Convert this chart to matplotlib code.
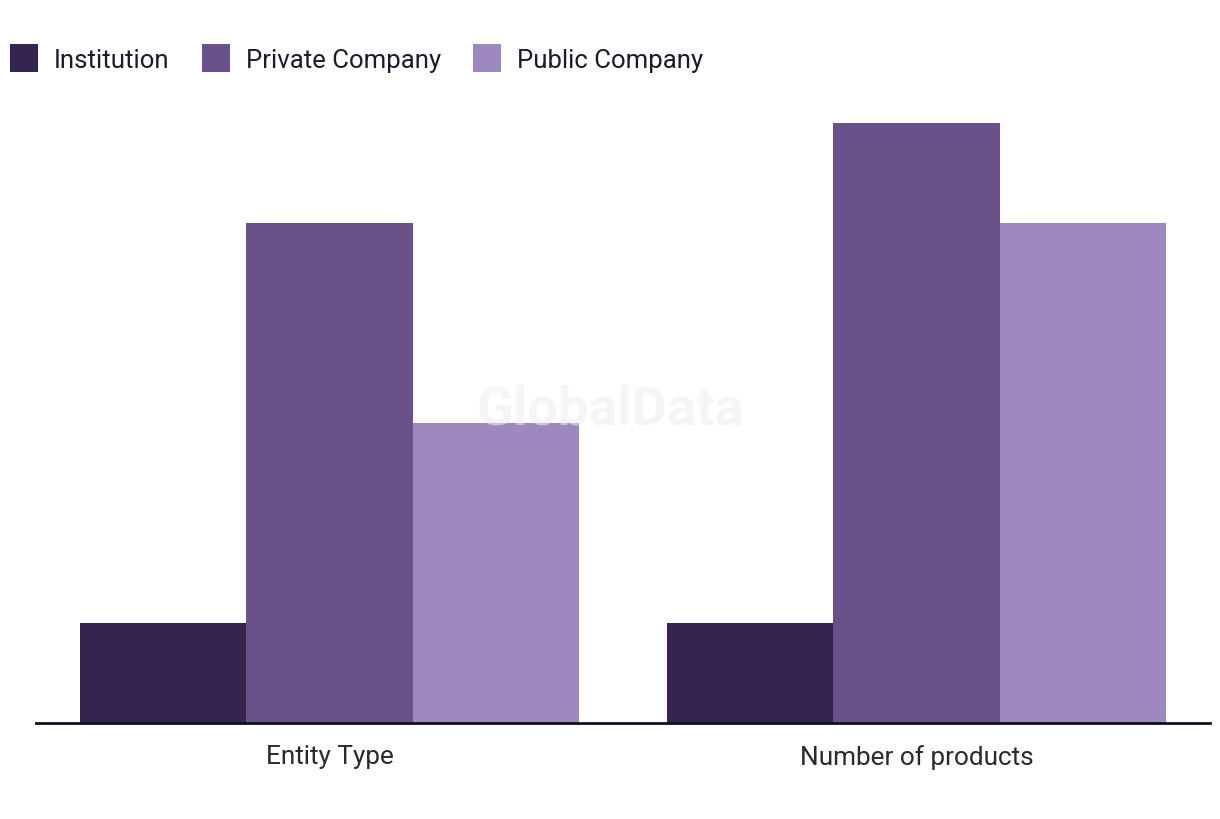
import numpy as np
import matplotlib.pyplot as plt
from matplotlib.patches import Patch

## Data
categories = ['Entity Type', 'Number of products']
series_names = ['Institution', 'Private Company', 'Public Company']
institution = [1, 1]
private_company = [5, 6]
public_company = [3, 5]

colors = ['#352352', '#6a5189', '#9f87c0']
text_color = '#1c1b2b'

plt.rcParams['font.family'] = ['Roboto', 'DejaVu Sans']

fig = plt.figure(figsize=[12.2, 8.2], dpi=100)
ax = fig.add_axes([36/1220, 96/820, 1174/1220, 600/820])

x = np.arange(len(categories))
width = 0.85 / 3
all_series = [institution, private_company, public_company]
for i, (vals, col) in enumerate(zip(all_series, colors)):
    ax.bar(x + (i - 1) * width, vals, width=width, color=col, linewidth=0)

ax.set_xlim(-0.5, 1.5)
ax.set_ylim(0, 6)
ax.set_yticks([])
ax.set_xticks(x)
ax.set_xticklabels(categories, fontsize=18.8, color='#2a2a2a')
ax.tick_params(axis='x', length=0, pad=15)
for s in ['top', 'right', 'left']:
    ax.spines[s].set_visible(False)
ax.spines['bottom'].set_color('#111122')
ax.spines['bottom'].set_linewidth(2)

## Watermark, drawn over the bars, faint
fig.text(610/1220, 1 - 410/820, 'GlobalData', fontsize=39, fontweight='bold',
         color='#eeeeee', alpha=0.55, ha='center', va='center', zorder=10)

handles = [Patch(facecolor=c, edgecolor='none') for c in colors]
fig.legend(handles, series_names, loc='upper left', bbox_to_anchor=(10/1220, 1 - 45/820),
           ncol=3, frameon=False, fontsize=18.5, handlelength=1.09, handleheight=1.3,
           handletextpad=0.62, columnspacing=1.25, borderaxespad=0, borderpad=0,
           labelcolor=text_color)

plt.savefig('out.png', dpi=100)
